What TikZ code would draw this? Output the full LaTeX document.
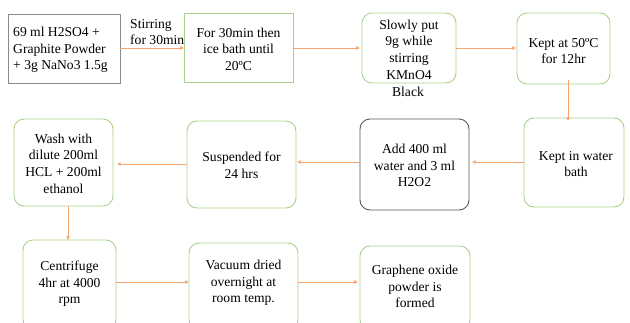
\documentclass[tikz,border=0pt]{standalone}
\usepackage{fontspec}
\setmainfont{Liberation Serif}
\usetikzlibrary{arrows.meta}
\definecolor{boxgreen}{HTML}{A9D18E}
\definecolor{flow}{HTML}{F4A46C}
\definecolor{greyline}{HTML}{8A8A8A}
\definecolor{darkline}{HTML}{595959}
\tikzset{
  txt/.style={font=\fontsize{13.6}{16.6}\selectfont, align=center, inner sep=0pt},
  stepbox/.style={draw=boxgreen, line width=0.9pt, rounded corners=10pt},
  squarebox/.style={draw=boxgreen, line width=0.9pt},
  flowarrow/.style={draw=flow, line width=0.8pt, -{Triangle[length=3.5pt,width=3.5pt]}},
}
\begin{document}
\begin{tikzpicture}[x=1pt,y=-1pt]
\useasboundingbox (0,0) rectangle (630,322);
\clip (0,0) rectangle (630,322);

% box outlines
\draw[draw=greyline, line width=0.9pt] (8,14) rectangle (120,83);
\draw[squarebox] (184,13) rectangle (293,82);
\draw[stepbox] (362,13) rectangle (456,83);
\draw[stepbox] (517,13) rectangle (610,84);
\draw[stepbox] (524,118) rectangle (624,207);
\draw[draw=darkline, line width=0.9pt, rounded corners=10pt] (360,119) rectangle (469,210);
\draw[stepbox] (187,121) rectangle (296,208);
\draw[stepbox] (14,119) rectangle (113,206);
\draw[stepbox] (23,240) rectangle (116,330);
\draw[stepbox] (189,243) rectangle (298,330);
\draw[stepbox] (360,246) rectangle (470,330);

% anchor nodes spanning each box
\node (b1) [minimum width=112pt, minimum height=69pt, inner sep=0pt] at (64,48.5) {};
\node (b2) [minimum width=109pt, minimum height=69pt, inner sep=0pt] at (238.5,47.5) {};
\node (b3) [minimum width=94pt, minimum height=70pt, inner sep=0pt] at (409,48) {};
\node (b4) [minimum width=93pt, minimum height=71pt, inner sep=0pt] at (563.5,48.5) {};
\node (b5) [minimum width=100pt, minimum height=89pt, inner sep=0pt] at (574,162.5) {};
\node (b6) [minimum width=109pt, minimum height=91pt, inner sep=0pt] at (414.5,164.5) {};
\node (b7) [minimum width=109pt, minimum height=87pt, inner sep=0pt] at (241.5,164.5) {};
\node (b8) [minimum width=99pt, minimum height=87pt, inner sep=0pt] at (63.5,162.5) {};
\node (b9) [minimum width=93pt, minimum height=84pt, inner sep=0pt] at (69.5,282) {};
\node (b10) [minimum width=109pt, minimum height=78pt, inner sep=0pt] at (243.5,282) {};
\node (b11) [minimum width=110pt, minimum height=76pt, inner sep=0pt] at (415,284) {};

% texts
\node[txt, align=left] (t1) at (60.5,50) {69 ml H2SO4 +\\Graphite Powder\\+ 3g NaNo3 1.5g};
\node[txt] (t2) at (238.5,49) {For 30min then\\ice bath until\\20ºC};
\node[txt] (t3) at (409,49.5) {Slowly put\\9g while\\stirring\\KMnO4};
\node[txt] (t3b) at (408,92) {Black};
\node[txt] (t4) at (563.5,51) {Kept at 50ºC\\for 12hr};
\node[txt] (t5) at (576,164) {Kept in water\\bath};
\node[txt] (t6) at (414.5,165.5) {Add 400 ml\\water and 3 ml\\H2O2};
\node[txt] (t7) at (241.5,165.5) {Suspended for\\24 hrs};
\node[txt] (t8) at (63.5,163.5) {Wash with\\dilute 200ml\\HCL + 200ml\\ethanol};
\node[txt] (t9) at (69.5,284) {Centrifuge\\4hr at 4000\\rpm};
\node[txt] (t10) at (243.5,283) {Vacuum dried\\overnight at\\room temp.};
\node[txt] (t11) at (415,286.5) {Graphene oxide\\powder is\\formed};
\node[txt, align=left, anchor=west] (lbl) at (130,32) {Stirring\\for 30min};

% connectors
\draw[flowarrow] (b1.east |- 0,48) -- (b2.west |- 0,48);
\draw[flowarrow] (b2.east |- 0,48) -- ([xshift=-2pt]b3.west |- 0,48);
\draw[flowarrow] (b3.east |- 0,48) -- ([xshift=-1pt]b4.west |- 0,48);
\draw[flowarrow] ([xshift=4.5pt,yshift=4pt]b4.south) -- ([xshift=4.5pt,yshift=-3pt]b4.south |- b5.north);
\draw[flowarrow] (b5.west |- 0,162) -- ([xshift=3pt]b6.east |- 0,162);
\draw[flowarrow] (b6.west |- 0,162) -- ([xshift=1pt]b7.east |- 0,162);
\draw[flowarrow] (b7.west |- 0,164) -- ([xshift=4pt]b8.east |- 0,164);
\draw[flowarrow] ([xshift=-1.5pt]b9.north |- b8.south) -- ([xshift=-1.5pt]b9.north);
\draw[flowarrow] (b9.east |- 0,282) -- (b10.west |- 0,282);
\draw[flowarrow] (b10.east |- 0,282) -- ([xshift=-2pt]b11.west |- 0,282);
\end{tikzpicture}
\end{document}
